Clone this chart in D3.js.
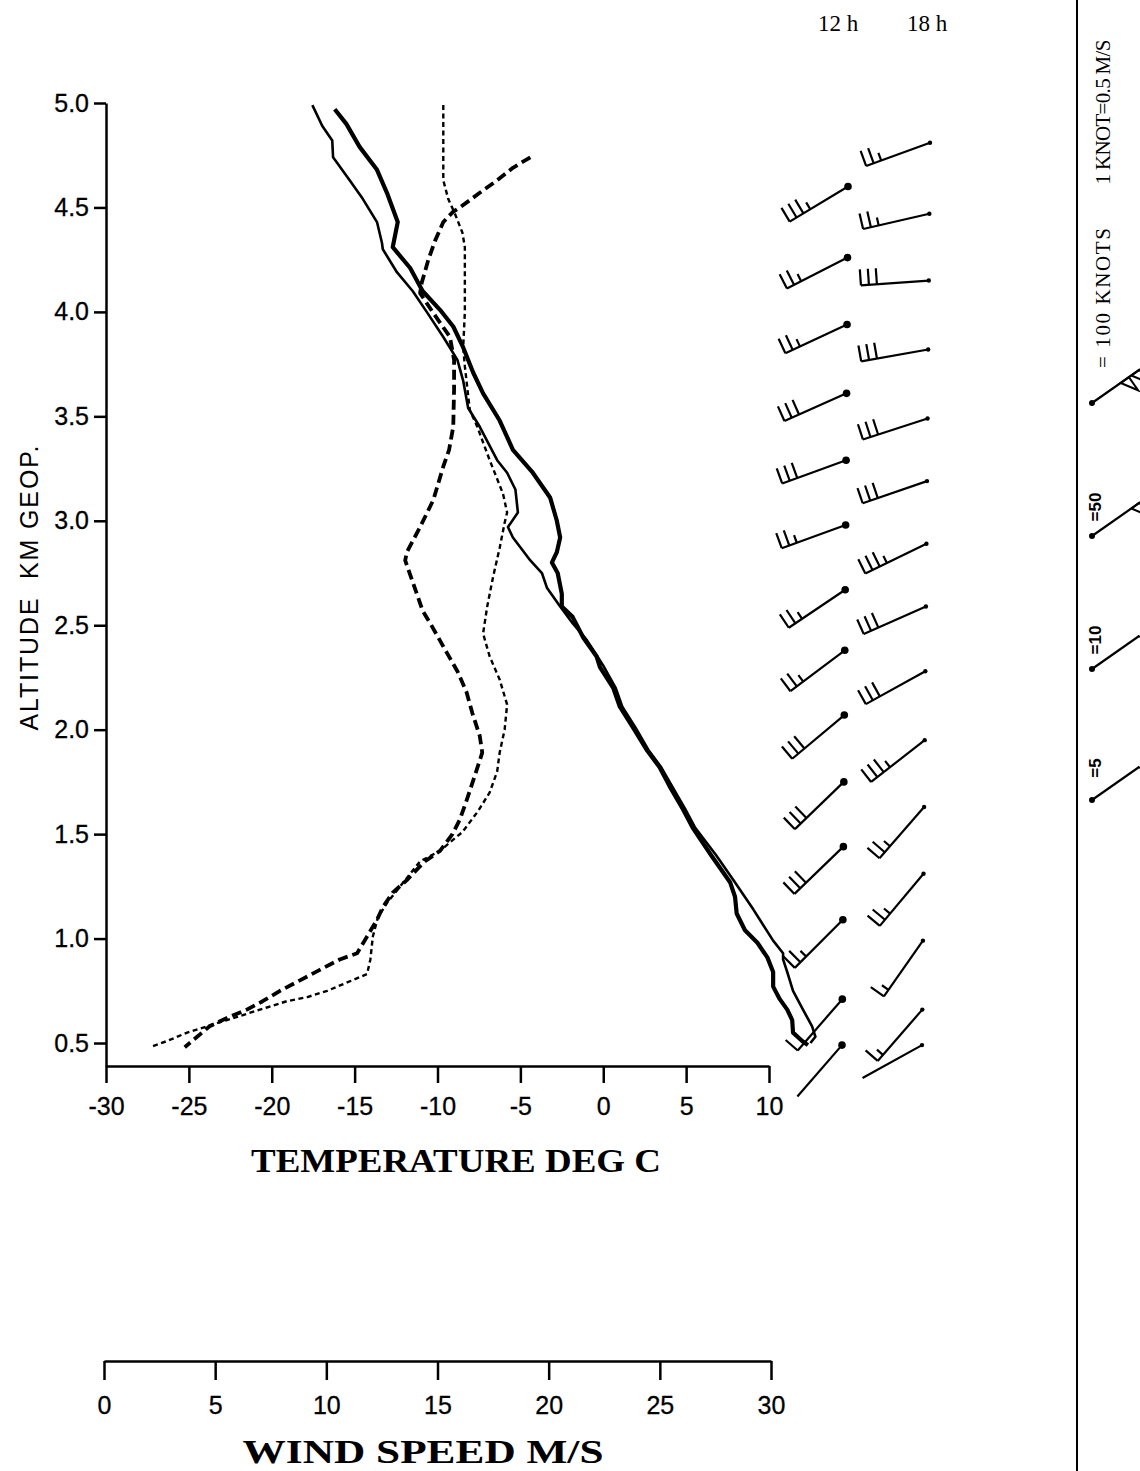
<!DOCTYPE html>
<html lang="en">
<head>
<meta charset="utf-8"/>
<title>Temperature and wind profile</title>
<script src="https://d3js.org/d3.v7.min.js"></script>
<style>
  body { margin: 0; background: #fff; }
  .axis text { font-family: "Liberation Sans", Arial, sans-serif; font-size: 25px; fill: #000; stroke: #000; stroke-width: 0.3px; }
  .axis path, .axis line { stroke: #000; stroke-width: 2.5px; }
  .serif { font-family: "Liberation Serif", "Times New Roman", serif; fill: #000; }
  .sans { font-family: "Liberation Sans", Arial, sans-serif; fill: #000; }
</style>
</head>
<body>
<div id="chart"></div>
<script>
// temperature profiles, [deg C, km]
var tempThick = [[-16.2,4.97],[-15.5,4.90],[-14.7,4.79],[-13.65,4.68],[-13.05,4.57],[-12.4,4.43],[-12.7,4.31],[-11.65,4.21],[-10.9,4.10],[-9.85,4.01],[-9.05,3.93],[-8.45,3.83],[-7.85,3.71],[-7.25,3.61],[-6.25,3.48],[-5.45,3.34],[-4.25,3.23],[-3.2,3.11],[-2.8,3.00],[-2.6,2.92],[-2.8,2.85],[-3.1,2.80],[-2.75,2.75],[-2.5,2.65],[-2.5,2.59],[-1.85,2.54],[-1.2,2.44],[-0.4,2.35],[-0.2,2.30],[0.6,2.20],[1.0,2.11],[1.8,2.01],[2.65,1.90],[3.4,1.82],[4.0,1.73],[4.8,1.62],[5.4,1.53],[6.5,1.40],[7.65,1.27],[7.95,1.20],[8.05,1.12],[8.55,1.04],[9.3,0.98],[9.9,0.91],[10.25,0.84],[10.25,0.77],[10.65,0.71],[11.1,0.66],[11.4,0.61],[11.45,0.55],[12.0,0.51],[12.35,0.49]];
var tempThin = [[-17.55,4.99],[-16.95,4.89],[-16.35,4.82],[-16.3,4.74],[-15.3,4.63],[-14.5,4.54],[-13.65,4.43],[-13.35,4.33],[-13.3,4.30],[-12.45,4.19],[-11.5,4.10],[-10.65,4.00],[-9.65,3.88],[-8.8,3.77],[-8.45,3.67],[-8.15,3.54],[-7.45,3.45],[-6.4,3.29],[-5.8,3.23],[-5.3,3.15],[-5.15,3.04],[-5.75,2.97],[-5.45,2.92],[-4.4,2.81],[-3.7,2.75],[-3.4,2.68],[-2.6,2.59],[-1.85,2.51],[-1.0,2.43],[-0.35,2.35],[0.05,2.30],[0.75,2.20],[1.15,2.11],[1.95,2.01],[2.75,1.90],[3.5,1.82],[4.15,1.73],[4.95,1.62],[5.55,1.53],[6.8,1.40],[7.85,1.28],[9.05,1.14],[10.25,0.99],[10.85,0.93],[10.85,0.90],[11.1,0.84],[11.45,0.75],[12.05,0.66],[12.6,0.58],[12.8,0.53],[12.5,0.50]];
var dewThick = [[-4.4,4.74],[-5.45,4.69],[-6.4,4.63],[-7.45,4.57],[-8.65,4.50],[-9.05,4.48],[-9.65,4.43],[-10.15,4.34],[-10.55,4.25],[-10.95,4.14],[-11.05,4.09],[-10.3,4.00],[-9.25,3.88],[-9.0,3.77],[-9.0,3.63],[-9.05,3.45],[-9.3,3.34],[-9.65,3.26],[-10.25,3.10],[-11.05,2.97],[-11.85,2.85],[-11.95,2.81],[-11.55,2.72],[-10.9,2.57],[-10.3,2.49],[-9.45,2.37],[-8.8,2.28],[-8.25,2.18],[-7.9,2.08],[-7.45,1.97],[-7.3,1.89],[-7.75,1.78],[-8.25,1.66],[-8.65,1.57],[-9.1,1.50],[-9.85,1.42],[-10.75,1.37],[-11.25,1.33],[-11.85,1.28],[-12.7,1.22],[-13.3,1.15],[-13.65,1.09],[-14.25,1.01],[-14.85,0.93],[-15.9,0.90],[-17.1,0.85],[-18.3,0.80],[-19.5,0.75],[-20.55,0.70],[-21.5,0.66],[-22.7,0.62],[-23.75,0.58],[-24.5,0.53],[-25.25,0.48]];
var dewThin = [[-9.65,4.99],[-9.65,4.79],[-9.65,4.63],[-9.35,4.54],[-8.95,4.47],[-8.5,4.38],[-8.35,4.31],[-8.35,4.15],[-8.35,4.00],[-8.45,3.83],[-8.35,3.74],[-8.05,3.53],[-7.6,3.45],[-6.85,3.29],[-6.05,3.13],[-5.8,3.04],[-5.95,2.99],[-6.25,2.87],[-6.65,2.73],[-7.0,2.59],[-7.25,2.46],[-6.85,2.35],[-6.25,2.24],[-5.8,2.12],[-5.95,2.00],[-6.25,1.89],[-6.4,1.80],[-6.85,1.70],[-7.55,1.61],[-8.5,1.51],[-9.85,1.42],[-11.05,1.37],[-12.25,1.25],[-13.05,1.17],[-13.6,1.10],[-13.9,1.01],[-14.05,0.90],[-14.25,0.83],[-15.45,0.79],[-16.65,0.75],[-17.85,0.72],[-19.1,0.70],[-20.3,0.67],[-21.5,0.64],[-22.7,0.61],[-23.9,0.58],[-25.1,0.55],[-26.3,0.51],[-27.35,0.48]];

var heightTicks = [0.5, 1.0, 1.5, 2.0, 2.5, 3.0, 3.5, 4.0, 4.5, 5.0];
var tempTicks = [-30, -25, -20, -15, -10, -5, 0, 5, 10];
var speedTicks = [0, 5, 10, 15, 20, 25, 30];

// wind at 12 h and 18 h: altitude km, direction deg, speed knots
var levels12 = [4.60, 4.26, 3.94, 3.61, 3.29, 2.98, 2.67, 2.38, 2.07, 1.75, 1.44, 1.09, 0.71, 0.49];
var dirs12 = [239, 243, 245, 246, 250, 250, 236, 233, 230, 226, 226, 225, 221, 221];
var knots12 = [35, 25, 25, 30, 30, 25, 25, 25, 30, 30, 30, 25, 10, 0];
var levels18 = [4.81, 4.47, 4.15, 3.82, 3.49, 3.19, 2.89, 2.59, 2.28, 1.95, 1.63, 1.31, 0.99, 0.66, 0.49];
var dirs18 = [250, 257, 266, 260, 252, 251, 244, 246, 241, 232, 221, 220, 215, 221, 241];
var knots18 = [25, 25, 30, 30, 30, 30, 35, 30, 30, 35, 25, 25, 15, 15, 0];

var legendKnots = [100, 50, 10, 5];
var legendLabels = ["= 100 KNOTS", "=50", "=10", "=5"];

var width = 1140, height = 1471;

var svg = d3.select("#chart").append("svg")
  .attr("width", width)
  .attr("height", height);

svg.append("rect").attr("width", width).attr("height", height).attr("fill", "#fff");

var x = d3.scaleLinear().domain([-30, 10]).range([106, 769]);
var y = d3.scaleLinear().domain([0.39, 5]).range([1066, 103]);
var ws = d3.scaleLinear().domain([0, 30]).range([104, 771]);

// station columns lean a little in the scan
var st12 = d3.scaleLinear().domain([0.49, 4.6]).range([842, 848]);
var st18 = d3.scaleLinear().domain([0.49, 4.81]).range([922, 930]);

// axes
svg.append("g")
  .attr("class", "axis")
  .attr("transform", "translate(106,0)")
  .call(d3.axisLeft(y).tickValues(heightTicks).tickFormat(d3.format(".1f"))
    .tickSize(12).tickSizeOuter(0).tickPadding(5));

svg.append("g")
  .attr("class", "axis")
  .attr("transform", "translate(0,1066)")
  .call(d3.axisBottom(x).tickValues(tempTicks).tickFormat(function(d) { return String(d); })
    .tickSize(17).tickSizeOuter(0).tickPadding(14));

var windY = 1361;
svg.append("g")
  .attr("class", "axis")
  .attr("transform", "translate(0," + windY + ")")
  .call(d3.axisBottom(ws).tickValues(speedTicks).tickFormat(function(d) { return String(d); })
    .tickSize(19).tickSizeOuter(0).tickPadding(16));

svg.selectAll(".axis .domain").attr("stroke-width", 3);

// axis titles
svg.append("text")
  .attr("class", "sans")
  .attr("transform", "translate(38,588) rotate(-90)")
  .attr("text-anchor", "middle")
  .attr("font-size", 25)
  .attr("textLength", 285)
  .text("ALTITUDE\u00a0\u00a0KM GEOP.");

svg.append("text")
  .attr("class", "serif")
  .attr("x", 456).attr("y", 1172)
  .attr("text-anchor", "middle")
  .attr("font-size", 34).attr("font-weight", "bold")
  .attr("textLength", 410).attr("lengthAdjust", "spacingAndGlyphs")
  .text("TEMPERATURE DEG C");

svg.append("text")
  .attr("class", "serif")
  .attr("x", 423).attr("y", windY + 102)
  .attr("text-anchor", "middle")
  .attr("font-size", 33).attr("font-weight", "bold")
  .attr("textLength", 361).attr("lengthAdjust", "spacingAndGlyphs")
  .text("WIND SPEED M/S");

svg.append("text").attr("class", "serif").attr("x", 838).attr("y", 31)
  .attr("text-anchor", "middle").attr("font-size", 23).text("12 h");
svg.append("text").attr("class", "serif").attr("x", 927).attr("y", 31)
  .attr("text-anchor", "middle").attr("font-size", 23).text("18 h");

// temperature curves
var line = d3.line()
  .x(function(d) { return x(d[0]); })
  .y(function(d) { return y(d[1]); });

var curves = [
  { data: dewThin, w: 2.4, dash: "5,3.5" },
  { data: dewThick, w: 3.8, dash: "10,5" },
  { data: tempThin, w: 2.6, dash: null },
  { data: tempThick, w: 4.2, dash: null }
];

svg.append("g").selectAll("path")
  .data(curves)
  .enter().append("path")
    .attr("d", function(d) { return line(d.data); })
    .attr("fill", "none")
    .attr("stroke", "#000")
    .attr("stroke-width", function(d) { return d.w; })
    .attr("stroke-dasharray", function(d) { return d.dash; })
    .attr("stroke-linejoin", "round");

// wind barbs: shaft points toward where the wind comes from
function barb(g, x0, y0, dir, knots, len, r) {
  var a = dir * Math.PI / 180;
  var ux = Math.sin(a), uy = -Math.cos(a);
  var px = -uy, py = ux;
  var fl = 16, step = 8;
  g.append("line")
    .attr("x1", x0).attr("y1", y0)
    .attr("x2", x0 + ux * len).attr("y2", y0 + uy * len)
    .attr("stroke", "#000").attr("stroke-width", 2.2);
  g.append("circle").attr("cx", x0).attr("cy", y0).attr("r", r).attr("fill", "#000");

  var flags = Math.floor(knots / 50),
      full = Math.floor((knots % 50) / 10),
      half = (knots % 10) >= 5 ? 1 : 0,
      pos = len;
  for (var i = 0; i < flags; i++) {
    var p1 = [x0 + ux * pos, y0 + uy * pos],
        p2 = [x0 + ux * (pos - 10), y0 + uy * (pos - 10)],
        p3 = [p1[0] + px * fl, p1[1] + py * fl];
    g.append("path")
      .attr("d", "M" + p1 + "L" + p3 + "L" + p2 + "Z")
      .attr("fill", "none").attr("stroke", "#000").attr("stroke-width", 2);
    pos -= 13;
  }
  for (i = 0; i < full + half; i++) {
    var l = i < full ? fl : fl * 0.5,
        bx = x0 + ux * pos, by = y0 + uy * pos;
    g.append("line")
      .attr("x1", bx).attr("y1", by)
      .attr("x2", bx + px * l).attr("y2", by + py * l)
      .attr("stroke", "#000").attr("stroke-width", 2.2);
    pos -= step;
  }
}

var barbs = svg.append("g");
levels12.forEach(function(h, i) {
  barb(barbs, st12(h), y(h), dirs12[i], knots12[i], 68, 3.8);
});
levels18.forEach(function(h, i) {
  barb(barbs, st18(h), y(h), dirs18[i], knots18[i], 68, 2.2);
});

// legend strip on the right
svg.append("line")
  .attr("x1", 1077).attr("x2", 1077).attr("y1", 0).attr("y2", height)
  .attr("stroke", "#000").attr("stroke-width", 2);

svg.append("text")
  .attr("class", "serif")
  .attr("transform", "translate(1110,112) rotate(-90)")
  .attr("text-anchor", "middle")
  .attr("font-size", 21)
  .attr("textLength", 145)
  .text("1 KNOT=0.5 M/S");

var legendDotY = [403, 536, 669, 800];
var legendTextY = [298, 507, 640, 768];
legendKnots.forEach(function(k, i) {
  barb(svg, 1092, legendDotY[i], 55, k, 58, 3);
  svg.append("text")
    .attr("class", i === 0 ? "serif" : "sans")
    .attr("transform", "translate(" + (i === 0 ? 1110 : 1101) + "," + legendTextY[i] + ") rotate(-90)")
    .attr("text-anchor", "middle")
    .attr("font-size", i === 0 ? 21 : 17)
    .attr("font-weight", i === 0 ? null : "bold")
    .attr("textLength", i === 0 ? 140 : null)
    .text(legendLabels[i]);
});
</script>
</body>
</html>
